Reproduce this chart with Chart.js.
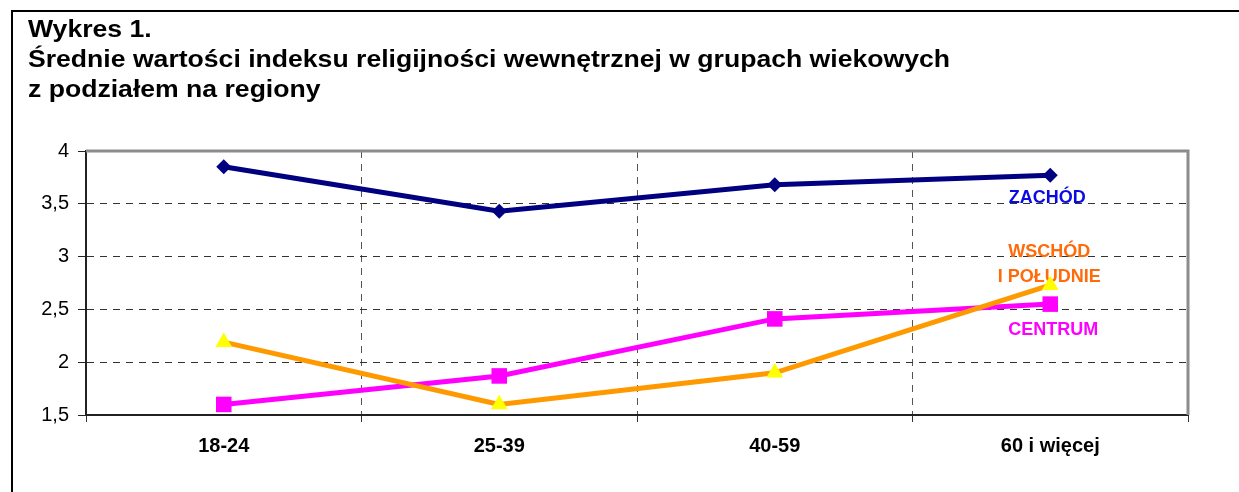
<!DOCTYPE html>
<html><head><meta charset="utf-8">
<script src="https://cdn.jsdelivr.net/npm/chart.js@4"></script>
<style>html,body{margin:0;padding:0;background:#fff}canvas{display:block}</style>
</head><body>
<canvas id="c" width="1239" height="492" style="width:1239px;height:492px"></canvas>
<script>
const categories = ['18-24', '25-39', '40-59', '60 i więcej'];
const zachod = [3.85, 3.43, 3.68, 3.77];
const wschod = [2.19, 1.60, 1.90, 2.73];
const centrum = [1.60, 1.87, 2.41, 2.55];
const yTicks = [1.5, 2, 2.5, 3, 3.5, 4];
const titleLines = ['Wykres 1.', 'Średnie wartości indeksu religijności wewnętrznej w grupach wiekowych', 'z podziałem na regiony'];
const seriesNames = ['ZACHÓD', 'WSCHÓD I POŁUDNIE', 'CENTRUM'];

const FONT = '"Liberation Sans", Arial, sans-serif';

const frameTitle = {
  id: 'frameTitle',
  beforeDraw(chart) {
    const ctx = chart.ctx;
    ctx.save();
    ctx.fillStyle = '#fff';
    ctx.fillRect(0, 0, chart.width, chart.height);
    ctx.strokeStyle = '#000';
    ctx.lineWidth = 2;
    ctx.beginPath();
    ctx.moveTo(12, chart.height + 2);
    ctx.lineTo(12, 11);
    ctx.lineTo(chart.width + 2, 11);
    ctx.stroke();
    ctx.font = 'bold 23px ' + FONT;
    ctx.fillStyle = '#000';
    ctx.textBaseline = 'alphabetic';
    const sx = 922 / ctx.measureText(titleLines[1]).width;
    const bases = [37, 67, 97];
    titleLines.forEach((t, i) => {
      ctx.save();
      ctx.translate(28, bases[i]);
      ctx.scale(sx, 1);
      ctx.fillText(t, 0, 0);
      ctx.restore();
    });
    ctx.restore();
  },
  beforeDatasetsDraw(chart) {
    const {ctx, chartArea: a, scales} = chart;
    ctx.save();
    ctx.strokeStyle = '#8c8c8c';
    ctx.lineWidth = 3;
    ctx.beginPath();
    ctx.moveTo(a.left, a.top);
    ctx.lineTo(a.right, a.top);
    ctx.lineTo(a.right, a.bottom);
    ctx.stroke();
    // series name labels
    const labels = [
      {text: 'ZACHÓD', v: 3.555, dx: -3, color: '#0a0ae6'},
      {text: 'WSCHÓD', v: 3.04, dx: -1, color: '#ff6a0a'},
      {text: 'I POŁUDNIE', v: 2.805, dx: -1, color: '#ff6a0a'},
      {text: 'CENTRUM', v: 2.30, dx: 3, color: '#ff00ff'}
    ];
    ctx.font = 'bold 18px ' + FONT;
    ctx.textAlign = 'center';
    ctx.textBaseline = 'middle';
    labels.forEach(l => {
      ctx.fillStyle = l.color;
      ctx.fillText(l.text, scales.x.getPixelForValue(3) + l.dx, scales.y.getPixelForValue(l.v));
    });
    ctx.restore();
  }
};

new Chart(document.getElementById('c'), {
  type: 'line',
  data: {
    labels: categories,
    datasets: [
      {label: seriesNames[0], data: zachod, borderColor: '#000080', backgroundColor: '#000080',
       borderWidth: 5, pointStyle: 'rectRot', pointRadius: 7.5, pointBorderWidth: 0, order: 1},
      {label: seriesNames[1], data: wschod, borderColor: '#ff9900', backgroundColor: '#ffff00',
       borderWidth: 5, pointStyle: 'triangle', pointRadius: 9.7, pointBorderWidth: 0, order: 2},
      {label: seriesNames[2], data: centrum, borderColor: '#ff00ff', backgroundColor: '#ff00ff',
       borderWidth: 5, pointStyle: 'rect', pointRadius: 11, pointBorderWidth: 0, order: 3}
    ]
  },
  options: {
    responsive: false,
    animation: false,
    devicePixelRatio: 1,
    layout: {padding: {left: 0, top: 151, right: 51, bottom: 0}},
    plugins: {legend: {display: false}, title: {display: false}, tooltip: {enabled: false}},
    elements: {line: {tension: 0}},
    scales: {
      x: {
        type: 'category',
        offset: true,
        grid: {
          offset: true,
          color: c => (c.type !== 'tick' || c.index === 0) ? 'rgba(0,0,0,0)' : '#555',
          lineWidth: 1,
          tickColor: '#333',
          tickWidth: 1,
          tickLength: 7
        },
        border: {display: true, color: '#222', width: 2, dash: [7, 6]},
        ticks: {color: '#000', font: {family: FONT, size: 20, weight: 'bold'}, padding: 12, maxRotation: 0, autoSkip: false},
        afterFit: s => { s.height = 77; }
      },
      y: {
        min: 1.5, max: 4,
        afterBuildTicks: s => { s.ticks = yTicks.map(v => ({value: v})); },
        grid: {
          color: c => (c.tick && (c.tick.value === 4 || c.tick.value === 1.5)) ? 'rgba(0,0,0,0)' : '#333',
          lineWidth: 1,
          tickColor: '#222',
          tickWidth: 1,
          tickLength: 8
        },
        border: {display: true, color: '#222', width: 2, dash: [7, 6]},
        ticks: {color: '#000', font: {family: FONT, size: 20}, padding: 9,
                callback: v => String(v).replace('.', ',')},
        afterFit: s => { s.width = 86; }
      }
    }
  },
  plugins: [frameTitle]
});
</script>
</body></html>
